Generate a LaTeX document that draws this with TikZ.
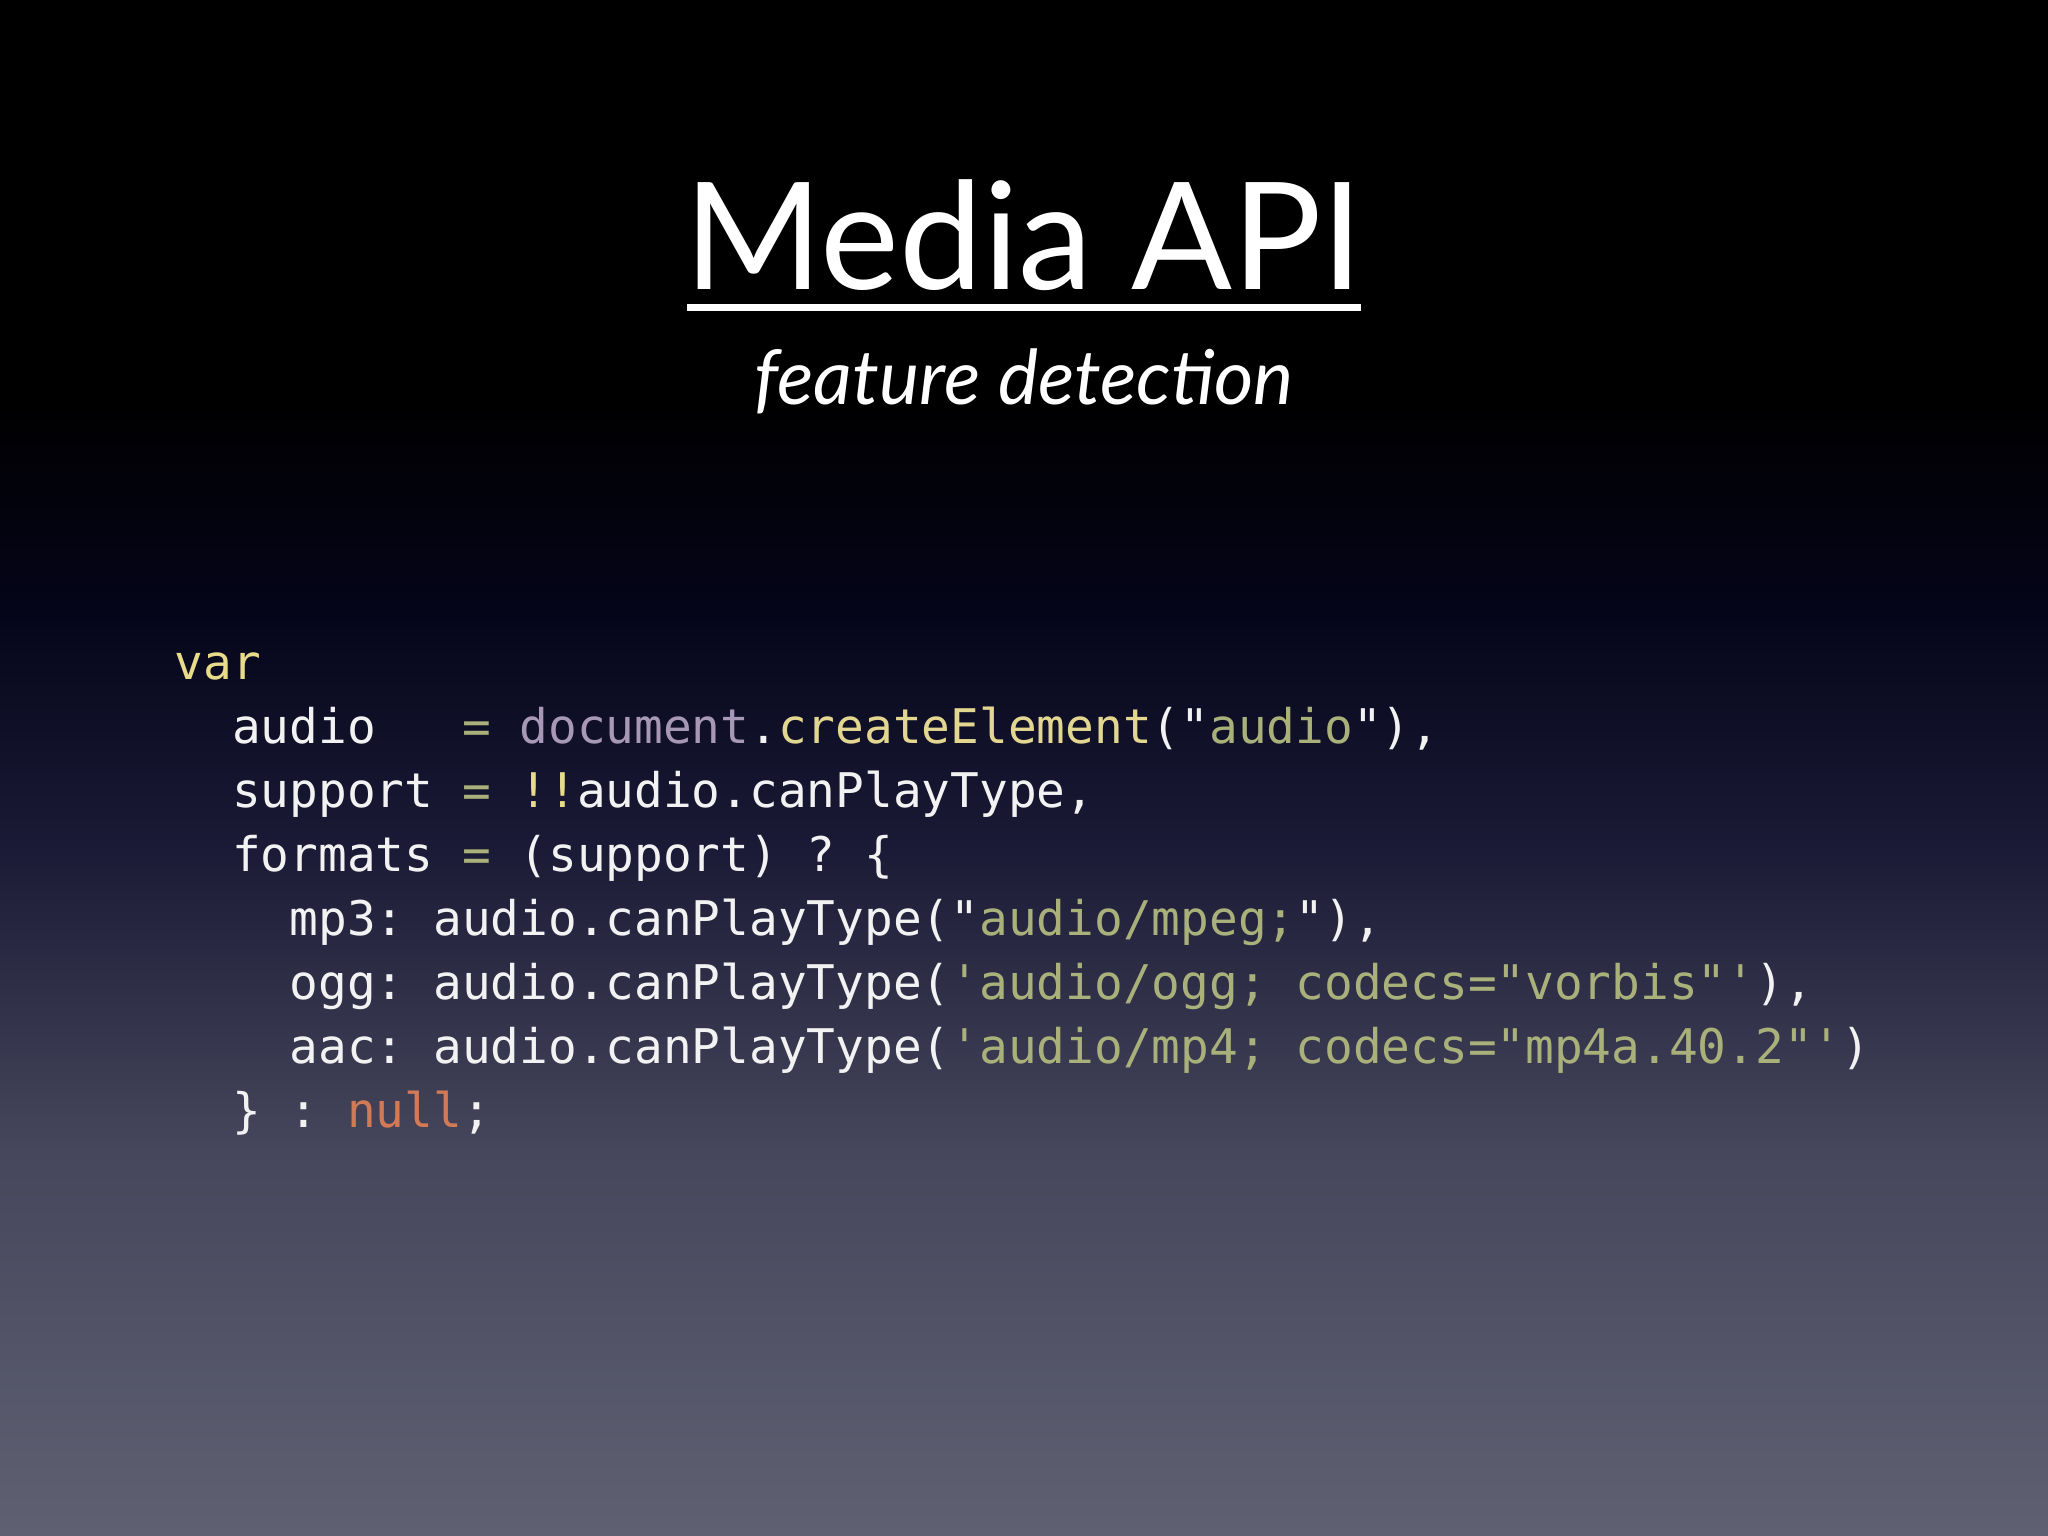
\documentclass[tikz,border=0pt]{standalone}
\usepackage{fontspec}
\setmainfont{Lato}
\setmonofont{DejaVu Sans Mono}
\definecolor{kw}{HTML}{E8DC8A}
\definecolor{obj}{HTML}{A898B8}
\definecolor{fn}{HTML}{E2D690}
\definecolor{str}{HTML}{A9B07A}
\definecolor{nul}{HTML}{D27A55}
\definecolor{cw}{HTML}{F2F2F2}
\definecolor{bga}{HTML}{5F6172}
\definecolor{bgb}{HTML}{46465C}
\definecolor{bgc}{HTML}{1A1A36}
\definecolor{bgd}{HTML}{05051A}
\pgfdeclareverticalshading{bg}{100bp}{
  color(0bp)=(bga);
  color(25bp)=(bga);
  color(37.5bp)=(bgb);
  color(47.5bp)=(bgc);
  color(55bp)=(bgd);
  color(62bp)=(black);
  color(100bp)=(black)}
\tikzset{codeline/.style={anchor=base west,inner sep=0pt,text=cw,font=\ttfamily\fontsize{10.4}{12}\selectfont}}
\begin{document}
\begin{tikzpicture}[x=1cm,y=-1cm]
\useasboundingbox (0,0) rectangle (15.68,11.76);
\shade[shading=bg] (0,0) rectangle (15.68,11.76);
\node[anchor=base,inner sep=0pt,text=white,font=\fontsize{32.5}{36}\selectfont] (title) at (7.84,2.22) {Media API};
\draw[white,line width=0.05cm] (5.26,2.355) -- (10.42,2.355);
\node[anchor=base,inner sep=0pt,text=white,font=\itshape\fontsize{16.5}{20}\selectfont] (sub) at (7.84,3.1) {feature detection};
\node[codeline] (l1) at (1.33,5.2) {\textcolor{kw}{var}};
\node[codeline] (l2) at (1.33,5.69) {~~audio~~~\textcolor{str}{=}~\textcolor{obj}{document}.\textcolor{fn}{createElement}("\textcolor{str}{audio}"),};
\node[codeline] (l3) at (1.33,6.18) {~~support~\textcolor{str}{=}~\textcolor{kw}{!!}audio.canPlayType,};
\node[codeline] (l4) at (1.33,6.67) {~~formats~\textcolor{str}{=}~(support)~?~\{};
\node[codeline] (l5) at (1.33,7.16) {~~~~mp3:~audio.canPlayType("\textcolor{str}{audio/mpeg;}"),};
\node[codeline] (l6) at (1.33,7.65) {~~~~ogg:~audio.canPlayType(\textcolor{str}{'audio/ogg;~codecs="vorbis"'}),};
\node[codeline] (l7) at (1.33,8.14) {~~~~aac:~audio.canPlayType(\textcolor{str}{'audio/mp4;~codecs="mp4a.40.2"'})};
\node[codeline] (l8) at (1.33,8.63) {~~\}~:~\textcolor{nul}{null};};
\end{tikzpicture}
\end{document}
